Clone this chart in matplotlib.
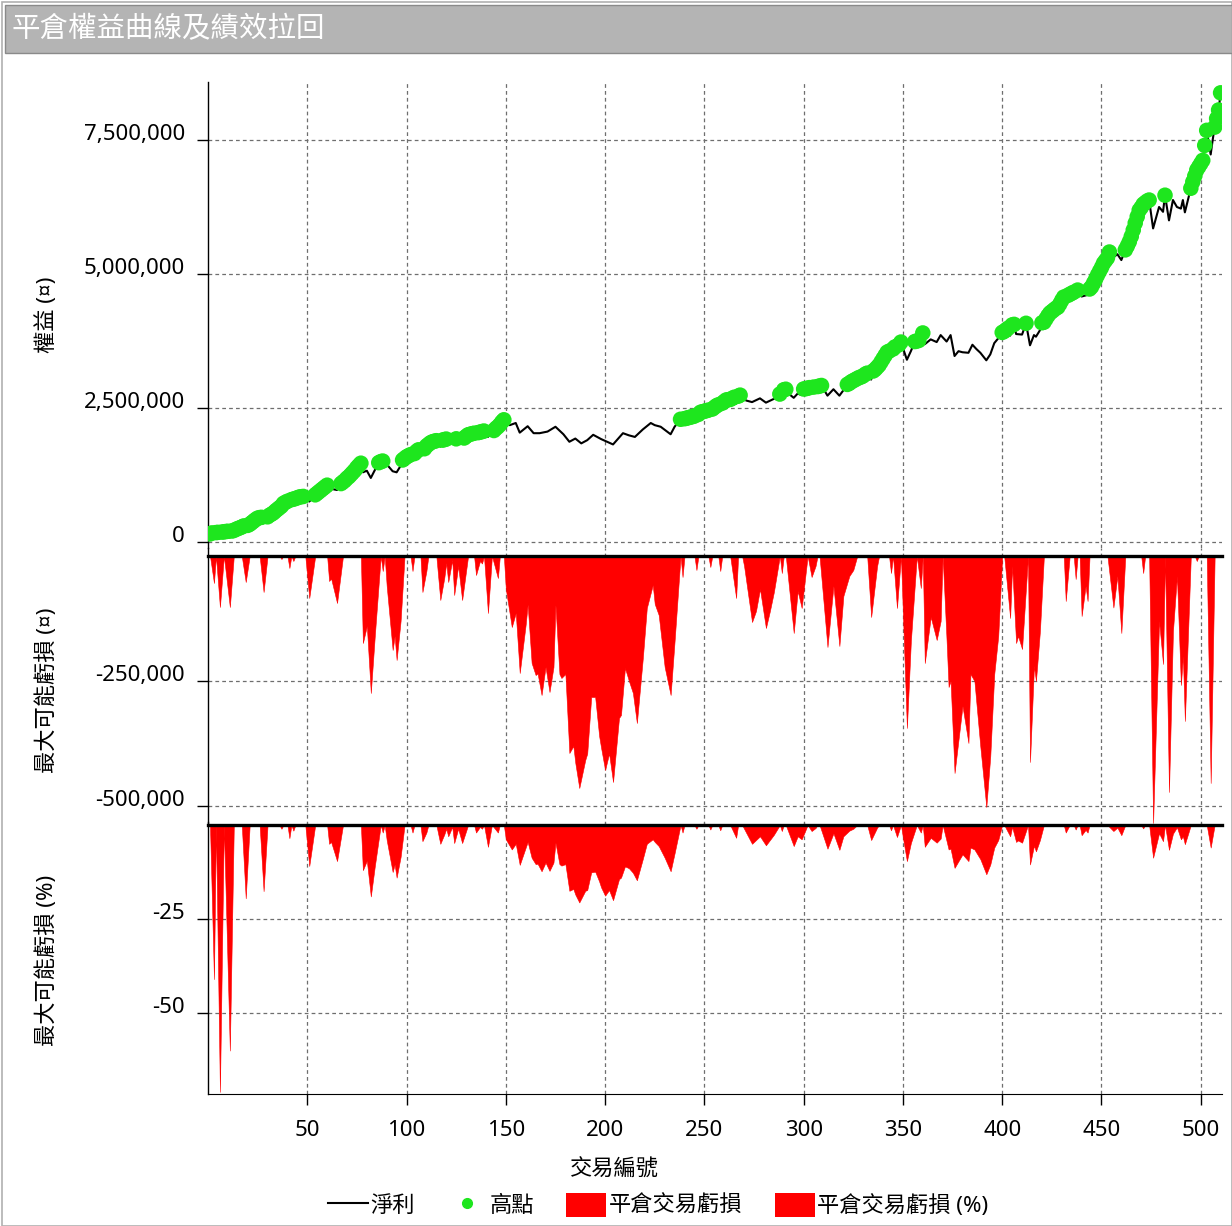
import matplotlib
matplotlib.use("Agg")
import matplotlib.pyplot as plt
import numpy as np
from matplotlib.patches import Rectangle, Patch
from matplotlib.lines import Line2D
from matplotlib.ticker import FuncFormatter

plt.rcParams['font.family'] = ['Noto Sans', 'Noto Sans CJK TC', 'DejaVu Sans']

# ---------------- data ----------------
title = "平倉權益曲線及績效拉回"
x_label = "交易編號"
y_labels = ["權益 (¤)", "最大可能虧損 (¤)", "最大可能虧損 (%)"]
legend_labels = ["淨利", "高點", "平倉交易虧損", "平倉交易虧損 (%)"]
x_ticks = [50, 100, 150, 200, 250, 300, 350, 400, 450, 500]
eq_ticks = [0, 2500000, 5000000, 7500000]
dd_ticks = [-500000, -250000]
pct_ticks = [-50, -25]

# equity (net profit) by trade number, in thousands
eq_trade = [1, 2, 3, 4, 5, 6, 7, 8, 9, 10,
            11, 12, 13, 14, 15, 16, 17, 18, 19, 20,
            21, 22, 23, 24, 25, 26, 27, 28, 29, 30,
            31, 32, 33, 34, 35, 36, 37, 38, 39, 40,
            41, 42, 43, 44, 45, 46, 47, 48, 51, 53,
            54, 55, 56, 57, 58, 59, 60, 61, 63, 65,
            66, 67, 68, 69, 70, 71, 72, 73, 74, 75,
            76, 77, 78, 80, 82, 84, 86, 87, 88, 90,
            93, 95, 97, 98, 99, 100, 101, 102, 103, 104,
            105, 106, 108, 109, 110, 111, 112, 113, 114, 115,
            117, 118, 119, 120, 122, 124, 125, 126, 128, 129,
            130, 131, 132, 133, 134, 135, 136, 137, 138, 139,
            141, 143, 144, 145, 146, 147, 148, 149, 152, 155,
            157, 161, 164, 167, 171, 175, 179, 182, 185, 188,
            191, 194, 198, 201, 204, 209, 212, 215, 219, 223,
            225, 228, 233, 235, 238, 239, 240, 241, 242, 243,
            244, 245, 246, 247, 248, 249, 250, 251, 252, 253,
            254, 255, 256, 257, 258, 259, 260, 261, 262, 263,
            264, 265, 266, 267, 268, 271, 274, 278, 281, 285,
            288, 289, 290, 291, 292, 295, 297, 299, 300, 301,
            302, 303, 304, 305, 306, 307, 308, 309, 312, 315,
            318, 320, 322, 323, 324, 325, 326, 327, 328, 329,
            330, 331, 332, 334, 335, 336, 337, 338, 339, 340,
            341, 342, 343, 344, 345, 346, 347, 348, 349, 350,
            352, 354, 356, 357, 358, 359, 360, 361, 364, 367,
            369, 372, 374, 376, 378, 380, 383, 385, 387, 389,
            392, 394, 396, 398, 400, 401, 402, 403, 404, 405,
            406, 407, 410, 412, 414, 416, 417, 419, 420, 421,
            422, 423, 424, 425, 426, 427, 428, 429, 430, 431,
            432, 433, 434, 435, 436, 437, 438, 440, 443, 444,
            445, 446, 447, 448, 449, 450, 451, 452, 453, 454,
            456, 458, 460, 462, 463, 464, 465, 466, 467, 468,
            469, 470, 471, 472, 473, 474, 476, 479, 481, 482,
            484, 486, 488, 490, 491, 492, 495, 496, 497, 498,
            499, 500, 501, 502, 503, 505, 506, 507, 508, 509,
            510]
eq_value_k = [150, 170, 115, 175, 180, 80, 185, 190, 195, 200,
              85, 205, 215, 235, 250, 265, 280, 300, 215, 310,
              330, 360, 390, 420, 445, 455, 460, 370, 430, 470,
              500, 520, 545, 580, 610, 640, 670, 720, 740, 760,
              700, 790, 800, 810, 825, 840, 845, 850, 755, 830,
              880, 910, 940, 970, 1000, 1030, 1060, 1010, 985, 970,
              1040, 1090, 1120, 1150, 1190, 1220, 1260, 1300, 1340, 1390,
              1430, 1470, 1300, 1330, 1195, 1340, 1480, 1500, 1510, 1450,
              1320, 1300, 1420, 1530, 1560, 1590, 1610, 1630, 1620, 1650,
              1690, 1720, 1650, 1740, 1790, 1820, 1850, 1870, 1880, 1890,
              1780, 1900, 1910, 1920, 1880, 1840, 1925, 1900, 1830, 1940,
              1970, 2000, 2010, 2020, 2030, 2000, 2040, 2050, 2060, 2070,
              1960, 2050, 2080, 2120, 2150, 2190, 2240, 2280, 2180, 2220,
              2040, 2160, 2030, 2030, 2060, 2150, 2010, 1870, 1930, 1840,
              1900, 2000, 1920, 1870, 1820, 2030, 1990, 1960, 2100, 2220,
              2180, 2150, 2010, 2150, 2290, 2250, 2300, 2310, 2320, 2330,
              2340, 2350, 2300, 2380, 2420, 2430, 2440, 2450, 2460, 2440,
              2480, 2510, 2540, 2560, 2530, 2590, 2620, 2650, 2655, 2660,
              2680, 2700, 2580, 2720, 2740, 2640, 2610, 2680, 2600, 2670,
              2760, 2730, 2840, 2850, 2780, 2690, 2770, 2740, 2855, 2860,
              2870, 2880, 2830, 2890, 2850, 2900, 2910, 2920, 2730, 2850,
              2730, 2830, 2940, 2960, 2990, 3010, 3030, 3050, 3070, 3080,
              3100, 3130, 3150, 3030, 3190, 3220, 3260, 3300, 3360, 3420,
              3480, 3540, 3560, 3510, 3600, 3640, 3540, 3680, 3730, 3620,
              3400, 3560, 3740, 3750, 3760, 3700, 3900, 3690, 3780, 3730,
              3860, 3740, 3860, 3470, 3560, 3540, 3530, 3680, 3600, 3530,
              3390, 3500, 3710, 3800, 3910, 3930, 3960, 3990, 3850, 4050,
              4060, 3880, 3870, 4080, 3670, 3860, 3830, 3950, 4090, 4100,
              4160, 4220, 4270, 4300, 4330, 4360, 4380, 4440, 4510, 4570,
              4480, 4600, 4620, 4640, 4660, 4580, 4700, 4580, 4610, 4720,
              4760, 4830, 4900, 4980, 5050, 5120, 5200, 5250, 5300, 5410,
              5310, 5370, 5260, 5450, 5520, 5600, 5700, 5820, 5950, 6070,
              6190, 6240, 6300, 6330, 6360, 6380, 5850, 6250, 6160, 6470,
              6000, 6380, 6250, 6220, 6380, 6150, 6600, 6720, 6830, 6940,
              7000, 7060, 7120, 7400, 7680, 7230, 7500, 7740, 7900, 8060,
              8380]

# max possible loss per closed trade (currency, thousands) and (%)
dd_trade = [0, 1, 3, 4, 6, 8, 11, 13, 17, 19,
            21, 26, 28, 30, 36, 37, 38, 40, 41, 42,
            43, 44, 49, 51, 54, 60, 61, 62, 65, 68,
            77, 78, 80, 82, 84, 87, 88, 89, 90, 93,
            94, 95, 97, 99, 102, 103, 104, 107, 108, 110,
            111, 115, 117, 119, 120, 121, 123, 124, 126, 128,
            131, 134, 135, 137, 138, 139, 141, 143, 146, 147,
            149, 150, 153, 155, 157, 160, 161, 163, 165, 166,
            168, 170, 172, 174, 175, 177, 178, 180, 182, 184,
            185, 187, 190, 191, 193, 195, 197, 198, 200, 202,
            204, 207, 208, 210, 212, 214, 216, 219, 221, 224,
            225, 227, 230, 233, 235, 238, 239, 240, 245, 246,
            247, 252, 253, 254, 257, 258, 259, 263, 266, 267,
            269, 270, 274, 276, 278, 281, 283, 285, 288, 289,
            290, 291, 295, 297, 299, 302, 304, 306, 307, 308,
            312, 315, 318, 320, 323, 325, 327, 332, 334, 337,
            338, 343, 344, 345, 347, 349, 350, 352, 354, 357,
            359, 360, 361, 364, 367, 369, 370, 372, 373, 374,
            376, 380, 383, 384, 386, 389, 392, 394, 396, 398,
            400, 401, 404, 405, 407, 408, 410, 413, 414, 416,
            417, 419, 421, 431, 432, 434, 436, 437, 438, 439,
            440, 442, 443, 444, 453, 456, 458, 460, 462, 470,
            471, 472, 474, 476, 479, 481, 482, 484, 486, 488,
            490, 491, 492, 495, 497, 498, 499, 503, 505, 507,
            510]
dd_value_k = [0, 0, -54, 0, -102, 0, -102, 0, 0, -52,
              0, 0, -72, 0, 0, -6, 0, 0, -24, 0,
              -10, 0, 0, -84, 0, 0, -50, -45, -94, 0,
              0, -174, -140, -274, -160, 0, -30, 0, -60, -188,
              -160, -208, -130, 0, 0, -30, 0, 0, -72, -30,
              0, 0, -88, -44, -14, -52, -8, -78, -20, -88,
              0, 0, -38, -10, -15, 0, -114, 0, -44, 0,
              0, -66, -142, -114, -234, -137, -97, -214, -238, -235,
              -278, -222, -272, -222, -98, -236, -244, -236, -394, -380,
              -414, -464, -408, -395, -282, -282, -360, -384, -428, -395,
              -452, -324, -318, -224, -250, -274, -334, -204, -104, -58,
              -96, -118, -222, -278, -170, 0, -42, 0, 0, -28,
              0, 0, -22, 0, 0, -30, 0, 0, -84, 0,
              0, -20, -132, -110, -66, -144, -110, -72, 0, -34,
              0, 0, -154, -70, -104, 0, -42, -20, 0, 0,
              -182, -60, -180, -80, -40, -28, 0, 0, -122, -20,
              0, 0, -34, 0, -104, 0, -116, -344, -170, 0,
              -64, 0, -214, -122, -168, -130, 0, -170, -262, -250,
              -434, -300, -374, -236, -250, -382, -502, -400, -236, -160,
              0, 0, -124, -20, -174, -160, -186, 0, -412, -220,
              -250, -150, 0, 0, -90, 0, 0, -46, 0, 0,
              -120, -60, -90, 0, 0, -103, -40, -154, 0, 0,
              -34, 0, 0, -534, -130, -216, 0, -472, -150, -40,
              -258, -200, -330, 0, 0, -10, 0, 0, -454, 0,
              0]
dd_pct = [0, 0, -41, 0, -71, 0, -60, 0, 0, -19.5,
          0, 0, -17.6, 0, 0, -1, 0, 0, -3.5, 0,
          -1.5, 0, 0, -10.9, 0, 0, -5, -4.5, -9.6, 0,
          0, -12, -9.5, -19, -11, 0, -2, 0, -4, -12.5,
          -10.5, -14, -8.5, 0, 0, -2, 0, 0, -4.3, -2,
          0, 0, -5, -2.5, -1, -3, -0.5, -4.8, -1, -4.8,
          0, 0, -2, -0.5, -1, 0, -5.8, 0, -2, 0,
          0, -3.8, -6.5, -5, -10.6, -6, -4.5, -8.7, -10.4, -10.3,
          -12.3, -10, -12.2, -10, -4.7, -10.4, -10.8, -10.4, -17.5, -17,
          -18.5, -20.6, -17.5, -17.3, -12.6, -12.4, -15, -16.6, -18.8, -17.3,
          -20, -14.4, -14, -11, -11.5, -12.7, -14.7, -9, -5, -3.8,
          -4.5, -5.6, -8.7, -12.3, -7.5, 0, -2, 0, 0, -1,
          0, 0, -1.2, 0, 0, -1.4, 0, 0, -3.4, 0,
          0, -1, -5, -4, -3, -5.4, -4, -2.6, 0, -1.6,
          0, 0, -5.6, -3, -3.8, 0, -1.6, -0.8, 0, 0,
          -6.3, -2.2, -6.6, -3, -1.5, -1, 0, 0, -4, -0.7,
          0, 0, -1.4, 0, -3.2, 0, -3.4, -9.6, -4.8, 0,
          -2, 0, -5.8, -3.4, -4.7, -3.6, 0, -4.3, -6.5, -6.3,
          -11.4, -7.8, -9.6, -6, -6.5, -9.1, -13.1, -10.5, -6, -4,
          0, 0, -3, -0.5, -4.5, -4.1, -4.7, 0, -10.5, -5.5,
          -7, -4, 0, 0, -2, 0, 0, -1.2, 0, 0,
          -2.7, -1.3, -2, 0, 0, -1.6, -0.7, -2.7, 0, 0,
          -0.9, 0, 0, -8.7, -2.2, -4.3, 0, -6.6, -2.3, -0.6,
          -3.8, -3, -5.1, 0, 0, -0.2, 0, 0, -6, 0,
          0]

assert len(eq_trade) == len(eq_value_k)
assert len(dd_trade) == len(dd_value_k) == len(dd_pct)

# ---------------- styling ----------------
GREEN = '#1ee61e'
RED = '#ff0000'
GRID = dict(color='#6e6e6e', linestyle=(0, (3, 2.5)), linewidth=0.9)
FS = 16

W, H = 1232, 1226
fig = plt.figure(figsize=(W / 100, H / 100), dpi=100)


def rect(top, bottom, left=208, right=1222):
    return [left / W, 1 - bottom / H, (right - left) / W, (bottom - top) / H]


# frame + title bar
fig.add_artist(Rectangle((2 / W, 0), (W - 2) / W, (H - 2) / H, transform=fig.transFigure,
                         fill=False, edgecolor='#b0b0b0', lw=1.2))
fig.add_artist(Rectangle((5 / W, 1 - 53 / H), (W - 5) / W, 48 / H, transform=fig.transFigure,
                         facecolor='#b4b4b4', edgecolor='#8a8a8a', lw=1.0))
fig.text(12 / W, 1 - 29 / H, title, color='white', fontsize=20.5, va='center', ha='left',
         family=['Noto Sans CJK TC', 'DejaVu Sans'], fontweight='medium')

ax1 = fig.add_axes(rect(82, 548))
ax2 = fig.add_axes(rect(548, 825))
ax3 = fig.add_axes(rect(822, 1094))

eq_x = np.array(eq_trade, dtype=float)
eq_y = np.array(eq_value_k, dtype=float) * 1000
prev_max = np.concatenate([[-np.inf], np.maximum.accumulate(eq_y)[:-1]])
is_high = eq_y > prev_max

ax1.plot(eq_x, eq_y, color='black', lw=1.5, zorder=3)
ax1.scatter(eq_x[is_high], eq_y[is_high], s=125, color=GREEN, edgecolors='none', zorder=4)

dd_x = np.array(dd_trade, dtype=float)
ax2.fill_between(dd_x, np.array(dd_value_k, dtype=float) * 1000, 0, color=RED, lw=0.4,
                 edgecolor=RED, zorder=2)
ax2.axhline(0, color='black', lw=2.4, zorder=5, clip_on=False)

ax3.fill_between(dd_x, np.array(dd_pct, dtype=float), 0, color=RED, lw=0.4,
                 edgecolor=RED, zorder=2)
ax3.axhline(0, color='black', lw=2.4, zorder=5, clip_on=False)

# axis limits (from pixel layout of the reference)
for ax in (ax1, ax2, ax3):
    ax.set_xlim(0, 510.7)
ax1.set_ylim(-112000, 8582000)
ax2.set_ylim(-538000, 16000)
ax3.set_ylim(-71.55, 0.8)

fmt = FuncFormatter(lambda v, p: '{:,.0f}'.format(v))
ax1.set_yticks(eq_ticks)
ax2.set_yticks(dd_ticks)
ax3.set_yticks(pct_ticks)

for ax in (ax1, ax2, ax3):
    ax.set_axisbelow(True)
    ax.set_xticks(x_ticks)
    ax.yaxis.set_major_formatter(fmt)
    ax.grid(True, **GRID)
    for s in ('top', 'right', 'bottom'):
        ax.spines[s].set_visible(False)
    ax.spines['left'].set_color('black')
    ax.spines['left'].set_linewidth(1.0)
    ax.tick_params(axis='y', direction='out', length=8, width=1, pad=8.5,
                   labelsize=FS, colors='black')
    ax.patch.set_alpha(0)
    for t in ax.get_yticklabels():
        t.set_verticalalignment('baseline')

for ax in (ax1, ax2):
    ax.tick_params(axis='x', length=0, labelbottom=False)

ax3.spines['bottom'].set_visible(True)
ax3.spines['bottom'].set_color('black')
ax3.tick_params(axis='x', direction='out', length=8, width=1, pad=11, labelsize=FS)

# labels
fig.text(614 / W, 1 - 1170 / H, x_label, ha='center', va='center', fontsize=FS)
for ylab, yc in zip(y_labels, [315, 690, 960]):
    fig.text(47 / W, 1 - yc / H, ylab, rotation=90, ha='center', va='center', fontsize=FS)

handles = [Line2D([], [], color='black', lw=1.5),
           Line2D([], [], color=GREEN, marker='o', ls='none', markersize=7),
           Patch(facecolor=RED, edgecolor='none'),
           Patch(facecolor=RED, edgecolor='none')]
fig.legend(handles, legend_labels, loc='center', bbox_to_anchor=(658 / W, 1 - 1205 / H),
           ncol=4, frameon=False, fontsize=FS, handlelength=1.8, handleheight=1.26,
           handletextpad=0.12, columnspacing=1.45, borderpad=0)

fig.savefig('out.png', dpi=100)
